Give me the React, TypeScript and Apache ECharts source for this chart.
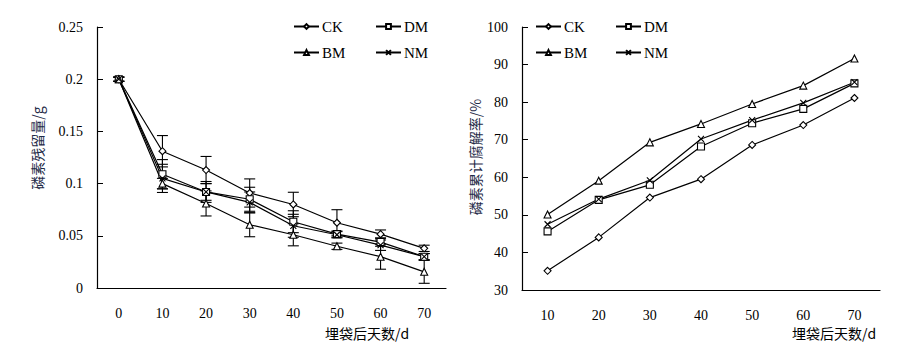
import React, { useEffect, useRef } from "react";
import * as echarts from "echarts";

// Left chart: phosphorus residue (g)
const daysLeft = ["0", "10", "20", "30", "40", "50", "60", "70"];
const ckRes = [0.2, 0.131, 0.113, 0.091, 0.08, 0.0625, 0.0516, 0.038];
const dmRes = [0.2, 0.109, 0.092, 0.085, 0.0635, 0.0516, 0.044, 0.03];
const bmRes = [0.2, 0.1, 0.081, 0.0606, 0.051, 0.04, 0.03, 0.0155];
const nmRes = [0.2, 0.105, 0.092, 0.082, 0.0596, 0.051, 0.041, 0.03];
const ckErr = [0.002, 0.015, 0.013, 0.0135, 0.0117, 0.0125, 0.004, 0.003];
const dmErr = [0.002, 0.014, 0.01, 0.0115, 0.0105, 0.003, 0.004, 0.003];
const bmErr = [0.002, 0.005, 0.012, 0.0115, 0.0106, 0.003, 0.012, 0.011];
const nmErr = [0.002, 0.0135, 0.008, 0.01, 0.011, 0.003, 0.005, 0.003];

// Right chart: cumulative decomposition rate (%)
const daysRight = ["10", "20", "30", "40", "50", "60", "70"];
const ckRate = [35.1, 44.0, 54.6, 59.5, 68.6, 73.9, 81.1];
const dmRate = [45.6, 54.0, 58.0, 68.2, 74.4, 78.2, 85.0];
const bmRate = [50.1, 59.1, 69.3, 74.2, 79.5, 84.4, 91.6];
const nmRate = [47.5, 54.2, 59.2, 70.2, 75.2, 79.8, 85.3];

const latin = "Liberation Serif";
const cjk = "Noto Sans CJK SC";

const symbolOf: Record<string, { symbol: string; size: number }> = {
  CK: { symbol: "diamond", size: 7 },
  DM: { symbol: "rect", size: 7 },
  BM: { symbol: "triangle", size: 7 },
  NM: { symbol: "path://M0,0L10,10M10,0L0,10", size: 6 },
};

function lineSeries(name: string, data: number[], axisIndex: number) {
  const s = symbolOf[name];
  return {
    type: "line",
    name,
    data,
    xAxisIndex: axisIndex,
    yAxisIndex: axisIndex,
    symbol: s.symbol,
    symbolSize: s.size,
    showAllSymbol: true,
    z: 3,
    lineStyle: { color: "#000", width: 1.2 },
    itemStyle: {
      color: name === "NM" ? "rgba(0,0,0,0)" : "#fff",
      borderColor: "#000",
      borderWidth: 1.1,
    },
    emphasis: { disabled: true },
  };
}

function errSeries(values: number[], errs: number[]) {
  return {
    type: "custom",
    xAxisIndex: 0,
    yAxisIndex: 0,
    z: 2,
    silent: true,
    encode: { x: 0, y: 1 },
    data: values.map((v, i) => [i, v, errs[i]]),
    renderItem: (params: any, api: any) => {
      const idx = api.value(0);
      const v = api.value(1);
      const e = api.value(2);
      const top = api.coord([idx, v + e]);
      const bot = api.coord([idx, v - e]);
      const hw = 5.5;
      const st = { stroke: "#000", lineWidth: 1.1 };
      return {
        type: "group",
        children: [
          { type: "line", shape: { x1: top[0], y1: top[1], x2: bot[0], y2: bot[1] }, style: st },
          { type: "line", shape: { x1: top[0] - hw, y1: top[1], x2: top[0] + hw, y2: top[1] }, style: st },
          { type: "line", shape: { x1: bot[0] - hw, y1: bot[1], x2: bot[0] + hw, y2: bot[1] }, style: st },
        ],
      };
    },
  };
}

function legendAt(name: string, left: number, top: number) {
  return {
    data: [name],
    left,
    top,
    padding: 0,
    itemWidth: 25,
    itemHeight: 6,
    selectedMode: false,
    textStyle: { fontFamily: latin, fontSize: 15, color: "#000", padding: [0, 0, 0, -2] },
  };
}

const axisLineStyle = { lineStyle: { color: "#000", width: 1.2 } };
const tickLabel = { fontFamily: latin, fontSize: 14, color: "#000", fontWeight: "normal" };

export default function App() {
  const ref = useRef<HTMLDivElement>(null);
  useEffect(() => {
    if (!ref.current) return;
    const chart = echarts.init(ref.current, null, { renderer: "svg" });
    const option: any = {
      animation: false,
      backgroundColor: "#fff",
      textStyle: { fontFamily: latin },
      grid: [
        { left: 97, top: 27, width: 349, height: 261 },
        { left: 522, top: 27, width: 358, height: 263 },
      ],
      legend: [
        legendAt("CK", 293, 19),
        legendAt("DM", 375, 19),
        legendAt("BM", 293, 45),
        legendAt("NM", 375, 45),
        legendAt("CK", 535, 19),
        legendAt("DM", 615, 19),
        legendAt("BM", 535, 45),
        legendAt("NM", 615, 45),
      ],
      xAxis: [
        {
          type: "category",
          gridIndex: 0,
          data: daysLeft,
          boundaryGap: true,
          axisLine: axisLineStyle,
          axisTick: { inside: true, length: 6, lineStyle: { color: "#000" } },
          axisLabel: { ...tickLabel, margin: 18 },
        },
        {
          type: "category",
          gridIndex: 1,
          data: daysRight,
          boundaryGap: true,
          axisLine: axisLineStyle,
          axisTick: { inside: true, length: 6, lineStyle: { color: "#000" } },
          axisLabel: { ...tickLabel, margin: 18 },
        },
      ],
      yAxis: [
        {
          type: "value",
          gridIndex: 0,
          min: 0,
          max: 0.25,
          interval: 0.05,
          splitLine: { show: false },
          axisLine: { show: true, ...axisLineStyle },
          axisTick: { show: true, inside: true, length: 6, lineStyle: { color: "#000" } },
          axisLabel: { ...tickLabel, margin: 14 },
        },
        {
          type: "value",
          gridIndex: 1,
          min: 30,
          max: 100,
          interval: 10,
          splitLine: { show: false },
          axisLine: { show: true, ...axisLineStyle },
          axisTick: { show: true, inside: true, length: 6, lineStyle: { color: "#000" } },
          axisLabel: { ...tickLabel, margin: 14 },
        },
      ],
      graphic: [
        {
          type: "text",
          x: 37,
          y: 148,
          rotation: Math.PI / 2,
          style: { text: "磷素残留量/g", font: `14px '${cjk}'`, fill: "#1f2b48", align: "center", verticalAlign: "middle" },
        },
        {
          type: "text",
          x: 475,
          y: 157,
          rotation: Math.PI / 2,
          style: { text: "磷素累计腐解率/%", font: `14px '${cjk}'`, fill: "#1f2b48", align: "center", verticalAlign: "middle" },
        },
        {
          type: "text",
          x: 367,
          y: 333,
          style: { text: "埋袋后天数/d", font: `14px '${cjk}'`, fill: "#000", align: "center", verticalAlign: "middle" },
        },
        {
          type: "text",
          x: 834,
          y: 333,
          style: { text: "埋袋后天数/d", font: `14px '${cjk}'`, fill: "#000", align: "center", verticalAlign: "middle" },
        },
      ],
      series: [
        errSeries(ckRes, ckErr),
        errSeries(dmRes, dmErr),
        errSeries(bmRes, bmErr),
        errSeries(nmRes, nmErr),
        lineSeries("CK", ckRes, 0),
        lineSeries("DM", dmRes, 0),
        lineSeries("BM", bmRes, 0),
        lineSeries("NM", nmRes, 0),
        lineSeries("CK", ckRate, 1),
        lineSeries("DM", dmRate, 1),
        lineSeries("BM", bmRate, 1),
        lineSeries("NM", nmRate, 1),
      ],
    };
    chart.setOption(option);
    return () => chart.dispose();
  }, []);
  return (
    <div
      ref={ref}
      style={{ position: "fixed", left: 0, top: 0, width: 906, height: 357, background: "#fff" }}
    />
  );
}
